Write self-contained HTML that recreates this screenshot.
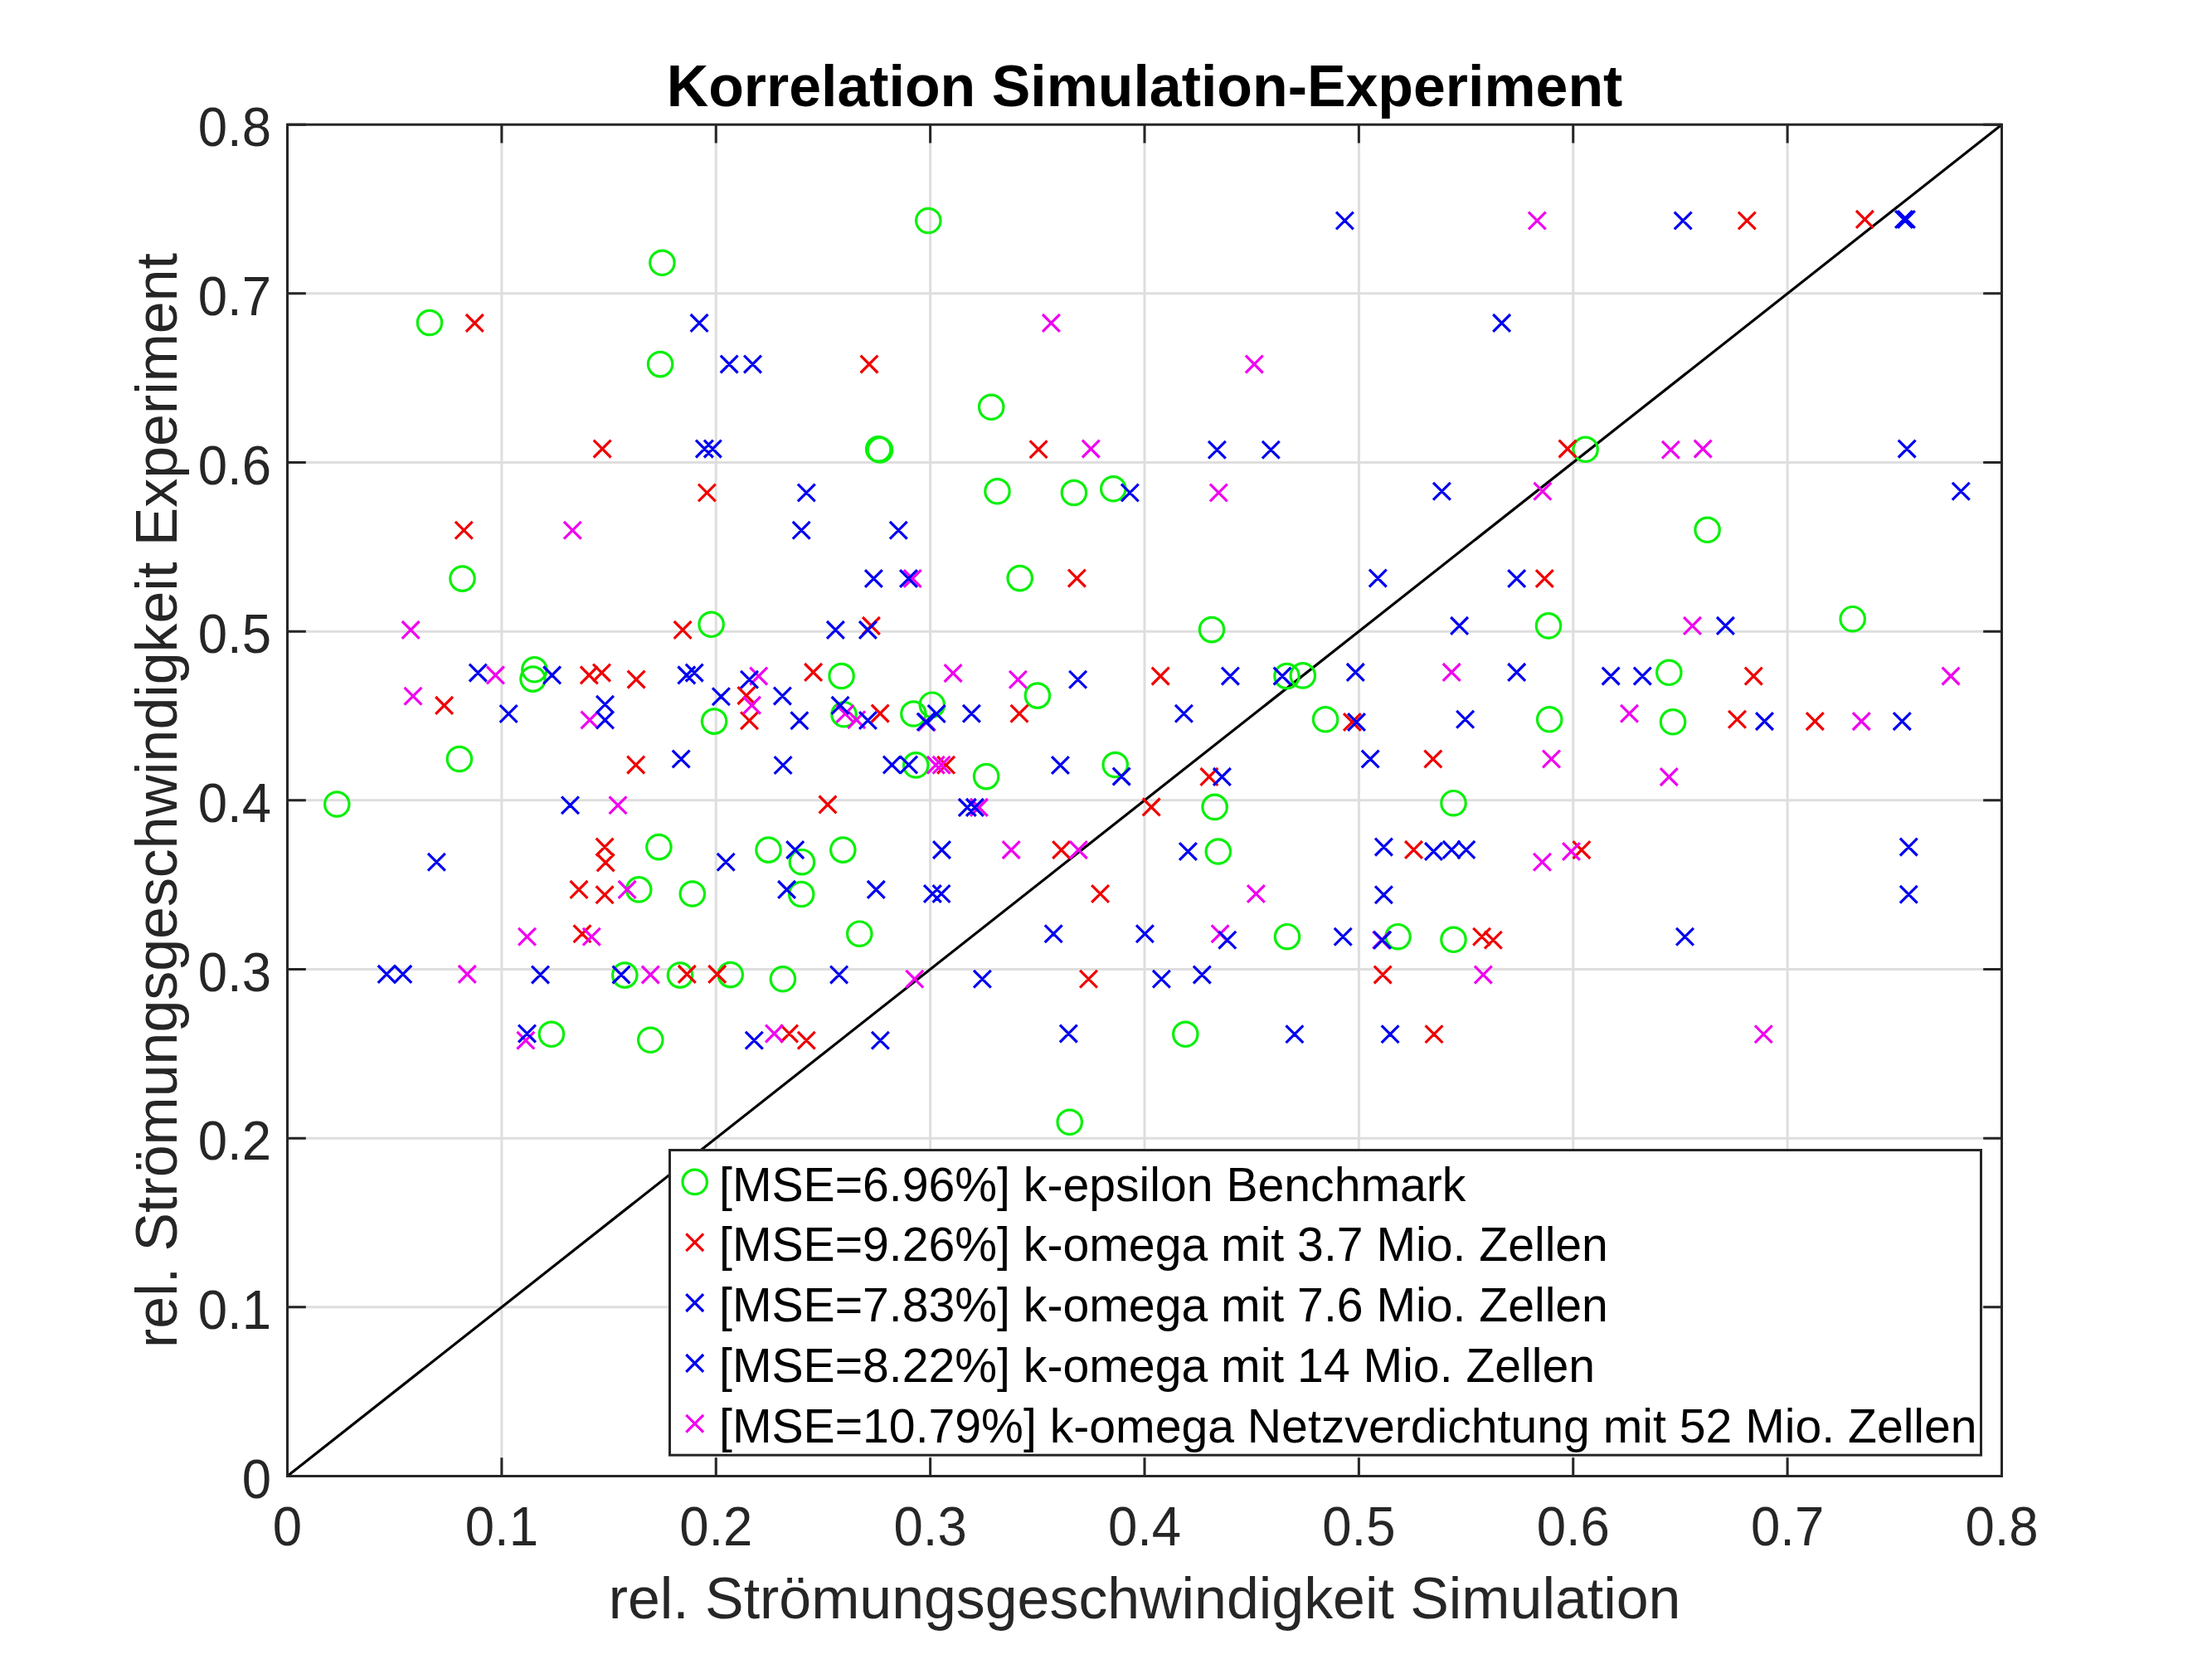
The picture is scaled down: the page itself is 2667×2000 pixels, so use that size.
<!DOCTYPE html><html><head><meta charset="utf-8"><style>html,body{margin:0;padding:0;background:#fff;overflow:hidden}svg{display:block}text{font-family:"Liberation Sans",sans-serif}</style></head><body><svg width="2667" height="2000" viewBox="0 0 2667 2000"><rect x="0" y="0" width="2667" height="2000" fill="#fff"/>
<path d="M604.88 150.2V1779.5M346.5 1575.84H2413.5M863.25 150.2V1779.5M346.5 1372.17H2413.5M1121.62 150.2V1779.5M346.5 1168.51H2413.5M1380.00 150.2V1779.5M346.5 964.85H2413.5M1638.38 150.2V1779.5M346.5 761.19H2413.5M1896.75 150.2V1779.5M346.5 557.53H2413.5M2155.12 150.2V1779.5M346.5 353.86H2413.5" stroke="#dedede" stroke-width="3" fill="none"/>
<path d="M346.5 1779.5L2413.5 150.2" stroke="#000" stroke-width="3.2" fill="none"/>
<g fill="none" stroke="#08f008" stroke-width="3.2"><circle cx="798.4" cy="316.8" r="14.7"/><circle cx="518.0" cy="389.0" r="14.7"/><circle cx="796.1" cy="439.1" r="14.7"/><circle cx="1119.3" cy="266.0" r="14.7"/><circle cx="1195.2" cy="490.8" r="14.7"/><circle cx="1202.5" cy="592.3" r="14.7"/><circle cx="1294.9" cy="594.0" r="14.7"/><circle cx="1342.3" cy="589.3" r="14.7"/><circle cx="1911.6" cy="541.8" r="14.7"/><circle cx="557.5" cy="697.6" r="14.7"/><circle cx="644.4" cy="807.3" r="14.7"/><circle cx="642.5" cy="818.6" r="14.7"/><circle cx="553.9" cy="915.0" r="14.7"/><circle cx="406.3" cy="969.5" r="14.7"/><circle cx="1229.7" cy="697.1" r="14.7"/><circle cx="857.6" cy="752.8" r="14.7"/><circle cx="861.1" cy="869.6" r="14.7"/><circle cx="1250.9" cy="838.6" r="14.7"/><circle cx="1189.1" cy="936.1" r="14.7"/><circle cx="1461.0" cy="759.1" r="14.7"/><circle cx="1551.5" cy="815.1" r="14.7"/><circle cx="1570.8" cy="814.4" r="14.7"/><circle cx="1598.1" cy="867.3" r="14.7"/><circle cx="1344.7" cy="922.0" r="14.7"/><circle cx="2058.6" cy="638.8" r="14.7"/><circle cx="1867.0" cy="754.4" r="14.7"/><circle cx="2233.7" cy="746.2" r="14.7"/><circle cx="2012.3" cy="810.8" r="14.7"/><circle cx="1868.2" cy="867.3" r="14.7"/><circle cx="2017.0" cy="870.3" r="14.7"/><circle cx="794.4" cy="1021.1" r="14.7"/><circle cx="770.2" cy="1072.4" r="14.7"/><circle cx="834.8" cy="1077.5" r="14.7"/><circle cx="753.3" cy="1175.6" r="14.7"/><circle cx="820.0" cy="1175.6" r="14.7"/><circle cx="664.9" cy="1246.8" r="14.7"/><circle cx="784.3" cy="1253.8" r="14.7"/><circle cx="926.5" cy="1024.6" r="14.7"/><circle cx="966.9" cy="1039.2" r="14.7"/><circle cx="1016.3" cy="1024.6" r="14.7"/><circle cx="966.2" cy="1078.0" r="14.7"/><circle cx="1036.3" cy="1125.7" r="14.7"/><circle cx="880.7" cy="1175.1" r="14.7"/><circle cx="943.9" cy="1180.3" r="14.7"/><circle cx="1464.6" cy="972.9" r="14.7"/><circle cx="1752.5" cy="968.2" r="14.7"/><circle cx="1468.8" cy="1026.5" r="14.7"/><circle cx="1552.0" cy="1129.2" r="14.7"/><circle cx="1685.5" cy="1129.2" r="14.7"/><circle cx="1752.5" cy="1132.8" r="14.7"/><circle cx="1429.3" cy="1246.8" r="14.7"/><circle cx="1014.6" cy="815" r="14.7"/><circle cx="1017.5" cy="861.2" r="14.7"/><circle cx="1101.4" cy="860.5" r="14.7"/><circle cx="1123.8" cy="849.7" r="14.7"/><circle cx="1104.3" cy="922.4" r="14.7"/><circle cx="1289.7" cy="1352.8" r="14.7"/><circle cx="1059.2" cy="541.4" r="14.7"/><circle cx="1061.0" cy="542.4" r="14.7"/></g>
<path d="M561.9 379.0L582.7 399.8M561.9 399.8L582.7 379.0M715.8 530.7L736.6 551.5M715.8 551.5L736.6 530.7M1037.6 428.7L1058.4 449.5M1037.6 449.5L1058.4 428.7M1241.7 531.4L1262.5 552.2M1241.7 552.2L1262.5 531.4M842.0 583.6L862.8 604.4M842.0 604.4L862.8 583.6M2095.9 255.6L2116.7 276.4M2095.9 276.4L2116.7 255.6M1879.6 530.7L1900.4 551.5M1879.6 551.5L1900.4 530.7M548.9 628.9L569.7 649.7M548.9 649.7L569.7 628.9M812.7 749.0L833.5 769.8M812.7 769.8L833.5 749.0M699.9 803.5L720.7 824.3M699.9 824.3L720.7 803.5M715.1 800.7L735.9 821.5M715.1 821.5L735.9 800.7M756.7 808.7L777.5 829.5M756.7 829.5L777.5 808.7M525.2 840.0L546.0 860.8M525.2 860.8L546.0 840.0M756.3 911.7L777.1 932.5M756.3 932.5L777.1 911.7M1288.0 686.7L1308.8 707.5M1288.0 707.5L1308.8 686.7M1040.0 744.0L1060.8 764.8M1040.0 764.8L1060.8 744.0M970.2 800.0L991.0 820.8M970.2 820.8L991.0 800.0M889.5 828.2L910.3 849.0M889.5 849.0L910.3 828.2M893.1 858.3L913.9 879.1M893.1 879.1L913.9 858.3M1218.6 849.8L1239.4 870.6M1218.6 870.6L1239.4 849.8M1388.8 804.7L1409.6 825.5M1388.8 825.5L1409.6 804.7M1717.4 904.6L1738.2 925.4M1717.4 925.4L1738.2 904.6M1851.9 687.1L1872.7 707.9M1851.9 707.9L1872.7 687.1M2103.9 804.7L2124.7 825.5M2103.9 825.5L2124.7 804.7M2084.1 856.9L2104.9 877.7M2084.1 877.7L2104.9 856.9M2177.9 859.2L2198.7 880.0M2177.9 880.0L2198.7 859.2M718.7 1010.7L739.5 1031.5M718.7 1031.5L739.5 1010.7M719.8 1029.5L740.6 1050.3M719.8 1050.3L740.6 1029.5M687.6 1062.0L708.4 1082.8M687.6 1082.8L708.4 1062.0M718.7 1068.3L739.5 1089.1M718.7 1089.1L739.5 1068.3M691.6 1115.3L712.4 1136.1M691.6 1136.1L712.4 1115.3M817.9 1164.0L838.7 1184.8M817.9 1184.8L838.7 1164.0M987.6 959.5L1008.4 980.3M987.6 980.3L1008.4 959.5M1269.2 1014.2L1290.0 1035.0M1269.2 1035.0L1290.0 1014.2M1316.2 1067.1L1337.0 1087.9M1316.2 1087.9L1337.0 1067.1M854.3 1164.0L875.1 1184.8M854.3 1184.8L875.1 1164.0M1302.1 1169.9L1322.9 1190.7M1302.1 1190.7L1322.9 1169.9M941.2 1235.7L962.0 1256.5M941.2 1256.5L962.0 1235.7M961.9 1243.9L982.7 1264.7M961.9 1264.7L982.7 1243.9M1377.8 962.5L1398.6 983.3M1377.8 983.3L1398.6 962.5M1776.2 1118.8L1797.0 1139.6M1776.2 1139.6L1797.0 1118.8M1789.9 1122.8L1810.7 1143.6M1789.9 1143.6L1810.7 1122.8M1656.8 1164.7L1677.6 1185.5M1656.8 1185.5L1677.6 1164.7M1718.6 1236.4L1739.4 1257.2M1718.6 1257.2L1739.4 1236.4M1896.5 1014.2L1917.3 1035.0M1896.5 1035.0L1917.3 1014.2M1050.8 849.7L1071.6 870.5M1050.8 870.5L1071.6 849.7M1130.2 911.8L1151.0 932.6M1130.2 932.6L1151.0 911.8M1447.5 926.0L1468.3 946.8M1447.5 946.8L1468.3 926.0M1620.0 860.1L1640.8 880.9M1620.0 880.9L1640.8 860.1M1694.1 1014.0L1714.9 1034.8M1694.1 1034.8L1714.9 1014.0M2238.0 254.0L2258.8 274.8M2238.0 274.8L2258.8 254.0" stroke="#f00000" stroke-width="3.2" fill="none"/>
<path d="M1257.0 379.0L1277.8 399.8M1257.0 399.8L1277.8 379.0M1304.9 530.7L1325.7 551.5M1304.9 551.5L1325.7 530.7M1501.9 428.7L1522.7 449.5M1501.9 449.5L1522.7 428.7M1458.9 583.6L1479.7 604.4M1458.9 604.4L1479.7 583.6M1842.9 255.6L1863.7 276.4M1842.9 276.4L1863.7 255.6M2004.0 531.9L2024.8 552.7M2004.0 552.7L2024.8 531.9M2042.8 530.7L2063.6 551.5M2042.8 551.5L2063.6 530.7M1849.5 581.9L1870.3 602.7M1849.5 602.7L1870.3 581.9M679.9 628.9L700.7 649.7M679.9 649.7L700.7 628.9M484.8 749.0L505.6 769.8M484.8 769.8L505.6 749.0M587.0 803.5L607.8 824.3M587.0 824.3L607.8 803.5M487.6 828.9L508.4 849.7M487.6 849.7L508.4 828.9M700.6 857.6L721.4 878.4M700.6 878.4L721.4 857.6M734.6 960.3L755.4 981.1M734.6 981.1L755.4 960.3M1089.8 687.1L1110.6 707.9M1089.8 707.9L1110.6 687.1M1138.7 801.2L1159.5 822.0M1138.7 822.0L1159.5 801.2M1217.0 808.9L1237.8 829.7M1217.0 829.7L1237.8 808.9M904.3 804.7L925.1 825.5M904.3 825.5L925.1 804.7M896.1 839.9L916.9 860.7M896.1 860.7L916.9 839.9M1739.8 800.0L1760.6 820.8M1739.8 820.8L1760.6 800.0M2030.1 744.0L2050.9 764.8M2030.1 764.8L2050.9 744.0M1954.1 849.8L1974.9 870.6M1954.1 870.6L1974.9 849.8M2233.9 859.2L2254.7 880.0M2233.9 880.0L2254.7 859.2M1860.1 904.6L1880.9 925.4M1860.1 925.4L1880.9 904.6M2001.9 926.2L2022.7 947.0M2001.9 947.0L2022.7 926.2M2341.7 804.7L2362.5 825.5M2341.7 825.5L2362.5 804.7M745.7 1062.0L766.5 1082.8M745.7 1082.8L766.5 1062.0M625.1 1118.8L645.9 1139.6M625.1 1139.6L645.9 1118.8M702.9 1118.8L723.7 1139.6M702.9 1139.6L723.7 1118.8M552.9 1164.0L573.7 1184.8M552.9 1184.8L573.7 1164.0M773.9 1164.7L794.7 1185.5M773.9 1185.5L794.7 1164.7M623.5 1243.9L644.3 1264.7M623.5 1264.7L644.3 1243.9M1208.8 1014.2L1229.6 1035.0M1208.8 1035.0L1229.6 1014.2M1289.9 1014.2L1310.7 1035.0M1289.9 1035.0L1310.7 1014.2M1092.4 1169.9L1113.2 1190.7M1092.4 1190.7L1113.2 1169.9M923.1 1235.7L943.9 1256.5M923.1 1256.5L943.9 1235.7M1504.0 1067.1L1524.8 1087.9M1504.0 1087.9L1524.8 1067.1M1460.7 1115.3L1481.5 1136.1M1460.7 1136.1L1481.5 1115.3M1655.2 1122.8L1676.0 1143.6M1655.2 1143.6L1676.0 1122.8M1777.9 1164.7L1798.7 1185.5M1777.9 1185.5L1798.7 1164.7M1849.1 1028.8L1869.9 1049.6M1849.1 1049.6L1869.9 1028.8M1884.1 1016.1L1904.9 1036.9M1884.1 1036.9L1904.9 1016.1M2115.9 1236.4L2136.7 1257.2M2115.9 1257.2L2136.7 1236.4M1008.5 850.1L1029.3 870.9M1008.5 870.9L1029.3 850.1M1022.3 857.3L1043.1 878.1M1022.3 878.1L1043.1 857.3M1106.9 860.2L1127.7 881.0M1106.9 881.0L1127.7 860.2M1117.9 911.8L1138.7 932.6M1117.9 932.6L1138.7 911.8M1124.7 911.8L1145.5 932.6M1124.7 932.6L1145.5 911.8M1170.0 963.0L1190.8 983.8M1170.0 983.8L1190.8 963.0" stroke="#f000f0" stroke-width="3.2" fill="none"/>
<path d="M832.7 379.0L853.5 399.8M832.7 399.8L853.5 379.0M868.8 428.7L889.6 449.5M868.8 449.5L889.6 428.7M897.1 428.7L917.9 449.5M897.1 449.5L917.9 428.7M839.0 530.7L859.8 551.5M839.0 551.5L859.8 530.7M848.9 530.7L869.7 551.5M848.9 551.5L869.7 530.7M961.9 583.6L982.7 604.4M961.9 604.4L982.7 583.6M1611.0 255.6L1631.8 276.4M1611.0 276.4L1631.8 255.6M1457.0 531.9L1477.8 552.7M1457.0 552.7L1477.8 531.9M1521.9 531.9L1542.7 552.7M1521.9 552.7L1542.7 531.9M1351.9 583.6L1372.7 604.4M1351.9 604.4L1372.7 583.6M1728.0 581.9L1748.8 602.7M1728.0 602.7L1748.8 581.9M2018.8 255.6L2039.6 276.4M2018.8 276.4L2039.6 255.6M1800.2 379.0L1821.0 399.8M1800.2 399.8L1821.0 379.0M2288.8 530.7L2309.6 551.5M2288.8 551.5L2309.6 530.7M2353.9 581.9L2374.7 602.7M2353.9 602.7L2374.7 581.9M565.9 800.7L586.7 821.5M565.9 821.5L586.7 800.7M655.2 803.5L676.0 824.3M655.2 824.3L676.0 803.5M817.4 803.5L838.2 824.3M817.4 824.3L838.2 803.5M826.8 800.7L847.6 821.5M826.8 821.5L847.6 800.7M602.8 850.1L623.6 870.9M602.8 870.9L623.6 850.1M719.1 838.8L739.9 859.6M719.1 859.6L739.9 838.8M719.1 857.6L739.9 878.4M719.1 878.4L739.9 857.6M810.8 904.6L831.6 925.4M810.8 925.4L831.6 904.6M677.1 960.3L697.9 981.1M677.1 981.1L697.9 960.3M955.8 628.8L976.6 649.6M955.8 649.6L976.6 628.8M1072.9 628.8L1093.7 649.6M1072.9 649.6L1093.7 628.8M1043.0 687.1L1063.8 707.9M1043.0 707.9L1063.8 687.1M1085.1 687.1L1105.9 707.9M1085.1 707.9L1105.9 687.1M997.0 749.0L1017.8 769.8M997.0 769.8L1017.8 749.0M1036.0 749.0L1056.8 769.8M1036.0 769.8L1056.8 749.0M1289.2 808.9L1310.0 829.7M1289.2 829.7L1310.0 808.9M893.1 808.9L913.9 829.7M893.1 829.7L913.9 808.9M859.0 829.4L879.8 850.2M859.0 850.2L879.8 829.4M933.0 828.7L953.8 849.5M933.0 849.5L953.8 828.7M953.5 858.3L974.3 879.1M953.5 879.1L974.3 858.3M1161.0 849.8L1181.8 870.6M1161.0 870.6L1181.8 849.8M933.7 912.1L954.5 932.9M933.7 932.9L954.5 912.1M1268.0 912.1L1288.8 932.9M1268.0 932.9L1288.8 912.1M1650.9 686.7L1671.7 707.5M1650.9 707.5L1671.7 686.7M1749.2 744.0L1770.0 764.8M1749.2 764.8L1770.0 744.0M1473.0 804.7L1493.8 825.5M1473.0 825.5L1493.8 804.7M1535.7 804.7L1556.5 825.5M1535.7 825.5L1556.5 804.7M1623.9 800.0L1644.7 820.8M1623.9 820.8L1644.7 800.0M1417.0 849.8L1437.8 870.6M1417.0 870.6L1437.8 849.8M1756.2 856.9L1777.0 877.7M1756.2 877.7L1777.0 856.9M1641.8 904.6L1662.6 925.4M1641.8 925.4L1662.6 904.6M1341.8 925.7L1362.6 946.5M1341.8 946.5L1362.6 925.7M1818.3 687.1L1839.1 707.9M1818.3 707.9L1839.1 687.1M2070.0 744.0L2090.8 764.8M2070.0 764.8L2090.8 744.0M1818.3 800.0L1839.1 820.8M1818.3 820.8L1839.1 800.0M1931.8 804.7L1952.6 825.5M1931.8 825.5L1952.6 804.7M1969.9 804.7L1990.7 825.5M1969.9 825.5L1990.7 804.7M2117.1 859.2L2137.9 880.0M2117.1 880.0L2137.9 859.2M2282.9 859.2L2303.7 880.0M2282.9 880.0L2303.7 859.2M516.0 1028.8L536.8 1049.6M516.0 1049.6L536.8 1028.8M455.8 1164.0L476.6 1184.8M455.8 1184.8L476.6 1164.0M475.4 1164.0L496.2 1184.8M475.4 1184.8L496.2 1164.0M641.1 1164.7L661.9 1185.5M641.1 1185.5L661.9 1164.7M738.6 1164.7L759.4 1185.5M738.6 1185.5L759.4 1164.7M625.1 1235.7L645.9 1256.5M625.1 1256.5L645.9 1235.7M864.8 1028.8L885.6 1049.6M864.8 1049.6L885.6 1028.8M948.3 1014.2L969.1 1035.0M948.3 1035.0L969.1 1014.2M938.2 1062.0L959.0 1082.8M938.2 1082.8L959.0 1062.0M1045.9 1062.0L1066.7 1082.8M1045.9 1082.8L1066.7 1062.0M1114.0 1067.1L1134.8 1087.9M1114.0 1087.9L1134.8 1067.1M1124.6 1067.1L1145.4 1087.9M1124.6 1087.9L1145.4 1067.1M1125.1 1014.2L1145.9 1035.0M1125.1 1035.0L1145.9 1014.2M1259.8 1115.3L1280.6 1136.1M1259.8 1136.1L1280.6 1115.3M1001.2 1164.7L1022.0 1185.5M1001.2 1185.5L1022.0 1164.7M1174.0 1169.9L1194.8 1190.7M1174.0 1190.7L1194.8 1169.9M898.9 1243.9L919.7 1264.7M898.9 1264.7L919.7 1243.9M1051.0 1243.9L1071.8 1264.7M1051.0 1264.7L1071.8 1243.9M1277.9 1235.7L1298.7 1256.5M1277.9 1256.5L1298.7 1235.7M1422.0 1016.1L1442.8 1036.9M1422.0 1036.9L1442.8 1016.1M1658.0 1010.7L1678.8 1031.5M1658.0 1031.5L1678.8 1010.7M1658.0 1068.3L1678.8 1089.1M1658.0 1089.1L1678.8 1068.3M1370.0 1115.3L1390.8 1136.1M1370.0 1136.1L1390.8 1115.3M1469.4 1122.8L1490.2 1143.6M1469.4 1143.6L1490.2 1122.8M1608.8 1118.8L1629.6 1139.6M1608.8 1139.6L1629.6 1118.8M1656.3 1122.8L1677.1 1143.6M1656.3 1143.6L1677.1 1122.8M1390.0 1169.9L1410.8 1190.7M1390.0 1190.7L1410.8 1169.9M1438.9 1164.7L1459.7 1185.5M1438.9 1185.5L1459.7 1164.7M1550.5 1236.4L1571.3 1257.2M1550.5 1257.2L1571.3 1236.4M1665.7 1236.4L1686.5 1257.2M1665.7 1257.2L1686.5 1236.4M2021.1 1118.8L2041.9 1139.6M2021.1 1139.6L2041.9 1118.8M2290.9 1010.7L2311.7 1031.5M2290.9 1031.5L2311.7 1010.7M2290.9 1067.8L2311.7 1088.6M2290.9 1088.6L2311.7 1067.8M2285.1 254.1L2305.9 274.9M2285.1 274.9L2305.9 254.1M2288.0 254.1L2308.8 274.9M2288.0 274.9L2308.8 254.1M1002.7 840.0L1023.5 860.8M1002.7 860.8L1023.5 840.0M1036.0 858.1L1056.8 878.9M1036.0 878.9L1056.8 858.1M1105.8 859.9L1126.6 880.7M1105.8 880.7L1126.6 859.9M1118.8 850.1L1139.6 870.9M1118.8 870.9L1139.6 850.1M1065.0 911.6L1085.8 932.4M1065.0 932.4L1085.8 911.6M1085.2 911.6L1106.0 932.4M1085.2 932.4L1106.0 911.6M1463.0 926.0L1483.8 946.8M1463.0 946.8L1483.8 926.0M1625.1 860.1L1645.9 880.9M1625.1 880.9L1645.9 860.1M1155.9 963.0L1176.7 983.8M1155.9 983.8L1176.7 963.0M1165.0 963.0L1185.8 983.8M1165.0 983.8L1185.8 963.0M1718.1 1016.0L1738.9 1036.8M1718.1 1036.8L1738.9 1016.0M1739.8 1014.0L1760.6 1034.8M1739.8 1034.8L1760.6 1014.0M1757.4 1014.0L1778.2 1034.8M1757.4 1034.8L1778.2 1014.0" stroke="#0000f0" stroke-width="3.2" fill="none"/>
<path d="M346.50 1779.5V1757.20M346.50 150.2V172.50M346.5 1779.50H368.80M2413.5 1779.50H2391.20M604.88 1779.5V1757.20M604.88 150.2V172.50M346.5 1575.84H368.80M2413.5 1575.84H2391.20M863.25 1779.5V1757.20M863.25 150.2V172.50M346.5 1372.17H368.80M2413.5 1372.17H2391.20M1121.62 1779.5V1757.20M1121.62 150.2V172.50M346.5 1168.51H368.80M2413.5 1168.51H2391.20M1380.00 1779.5V1757.20M1380.00 150.2V172.50M346.5 964.85H368.80M2413.5 964.85H2391.20M1638.38 1779.5V1757.20M1638.38 150.2V172.50M346.5 761.19H368.80M2413.5 761.19H2391.20M1896.75 1779.5V1757.20M1896.75 150.2V172.50M346.5 557.53H368.80M2413.5 557.53H2391.20M2155.12 1779.5V1757.20M2155.12 150.2V172.50M346.5 353.86H368.80M2413.5 353.86H2391.20M2413.50 1779.5V1757.20M2413.50 150.2V172.50M346.5 150.20H368.80M2413.5 150.20H2391.20" stroke="#262626" stroke-width="3" fill="none"/>
<rect x="346.5" y="150.2" width="2067.0" height="1629.3" stroke="#262626" stroke-width="3" fill="none"/>
<g font-size="63.5" fill="#262626"><text transform="translate(346.50 1863) scale(1 1.04)" text-anchor="middle">0</text><text transform="translate(327 1805.50) scale(1 1.04)" text-anchor="end">0</text><text transform="translate(604.88 1863) scale(1 1.04)" text-anchor="middle">0.1</text><text transform="translate(327 1601.84) scale(1 1.04)" text-anchor="end">0.1</text><text transform="translate(863.25 1863) scale(1 1.04)" text-anchor="middle">0.2</text><text transform="translate(327 1398.17) scale(1 1.04)" text-anchor="end">0.2</text><text transform="translate(1121.62 1863) scale(1 1.04)" text-anchor="middle">0.3</text><text transform="translate(327 1194.51) scale(1 1.04)" text-anchor="end">0.3</text><text transform="translate(1380.00 1863) scale(1 1.04)" text-anchor="middle">0.4</text><text transform="translate(327 990.85) scale(1 1.04)" text-anchor="end">0.4</text><text transform="translate(1638.38 1863) scale(1 1.04)" text-anchor="middle">0.5</text><text transform="translate(327 787.19) scale(1 1.04)" text-anchor="end">0.5</text><text transform="translate(1896.75 1863) scale(1 1.04)" text-anchor="middle">0.6</text><text transform="translate(327 583.53) scale(1 1.04)" text-anchor="end">0.6</text><text transform="translate(2155.12 1863) scale(1 1.04)" text-anchor="middle">0.7</text><text transform="translate(327 379.86) scale(1 1.04)" text-anchor="end">0.7</text><text transform="translate(2413.50 1863) scale(1 1.04)" text-anchor="middle">0.8</text><text transform="translate(327 176.20) scale(1 1.04)" text-anchor="end">0.8</text></g>
<text x="1380" y="1951" text-anchor="middle" font-size="69.85" fill="#262626">rel. Strömungsgeschwindigkeit Simulation</text>
<text transform="translate(213 965) rotate(-90)" x="0" y="0" text-anchor="middle" font-size="69.85" fill="#262626">rel. Strömungsgeschwindigkeit Experiment</text>
<text transform="translate(1380 128) scale(1 1.02)" text-anchor="middle" font-weight="bold" font-size="69.85" fill="#000">Korrelation Simulation-Experiment</text>
<rect x="807.5" y="1386.5" width="1581.0" height="367.70000000000005" fill="#fff" stroke="#262626" stroke-width="3"/>
<g font-size="57.15" fill="#000"><text transform="translate(867 1447.60) scale(1 1.02)">[MSE=6.96%] k-epsilon Benchmark</text><text transform="translate(867 1520.45) scale(1 1.02)">[MSE=9.26%] k-omega mit 3.7 Mio. Zellen</text><text transform="translate(867 1593.30) scale(1 1.02)">[MSE=7.83%] k-omega mit 7.6 Mio. Zellen</text><text transform="translate(867 1666.15) scale(1 1.02)">[MSE=8.22%] k-omega mit 14 Mio. Zellen</text><text transform="translate(867 1739.00) scale(1 1.02)">[MSE=10.79%] k-omega Netzverdichtung mit 52 Mio. Zellen</text></g>
<circle cx="837.7" cy="1424.9" r="14.7" fill="none" stroke="#08f008" stroke-width="3.2"/>
<path d="M827.3 1487.3L848.1 1508.2M827.3 1508.2L848.1 1487.3" stroke="#f00000" stroke-width="3.2" fill="none"/>
<path d="M827.3 1560.2L848.1 1581.0M827.3 1581.0L848.1 1560.2" stroke="#0000f0" stroke-width="3.2" fill="none"/>
<path d="M827.3 1633.0L848.1 1653.9M827.3 1653.9L848.1 1633.0" stroke="#0000f0" stroke-width="3.2" fill="none"/>
<path d="M827.3 1705.9L848.1 1726.7M827.3 1726.7L848.1 1705.9" stroke="#f000f0" stroke-width="3.2" fill="none"/></svg></body></html>
